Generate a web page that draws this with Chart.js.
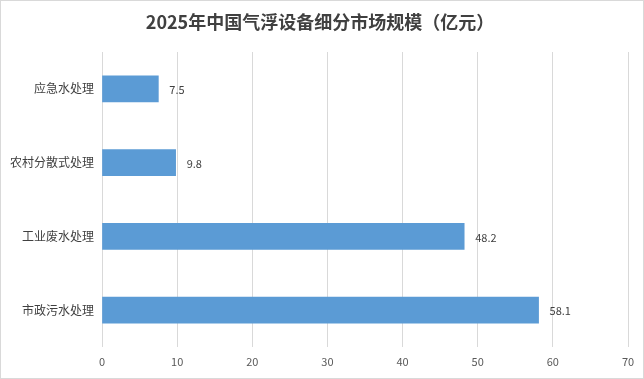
<!DOCTYPE html>
<html><head><meta charset="utf-8">
<script src="https://cdn.jsdelivr.net/npm/chart.js@4"></script>
<style>html,body{margin:0;padding:0;background:#fff}#w{width:644px;height:379px;position:relative}</style>
</head><body><div id="w"><canvas id="c" width="644" height="379"></canvas></div>
<script>
const titleText = '2025年中国气浮设备细分市场规模（亿元）';
const categories = ['应急水处理', '农村分散式处理', '工业废水处理', '市政污水处理'];
const values = [7.5, 9.8, 48.2, 58.1];
const xTicks = [0, 10, 20, 30, 40, 50, 60, 70];

const FONT = '"Noto Sans CJK SC", "Noto Sans", sans-serif';

const deco = {
  id: 'deco',
  afterDraw(chart) {
    const ctx = chart.ctx;
    ctx.save();
    ctx.strokeStyle = '#d9d9d9';
    ctx.lineWidth = 1;
    ctx.strokeRect(0.5, 0.5, chart.width - 1, chart.height - 1);
    ctx.fillStyle = '#404040';
    ctx.font = 'bold 18px ' + FONT;
    ctx.textAlign = 'center';
    ctx.textBaseline = 'middle';
    ctx.fillText(titleText, 320, 22);
    const meta = chart.getDatasetMeta(0);
    ctx.font = '11px ' + FONT;
    ctx.fillStyle = '#404040';
    ctx.textAlign = 'left';
    meta.data.forEach((bar, i) => {
      ctx.fillText(String(values[i]), bar.x + 11, bar.y + 1);
    });
    ctx.restore();
  }
};

new Chart(document.getElementById('c'), {
  type: 'bar',
  data: {
    labels: categories,
    datasets: [{ data: values, backgroundColor: '#5b9bd5', borderWidth: 0, barThickness: 26 }]
  },
  options: {
    indexAxis: 'y',
    responsive: false,
    animation: false,
    devicePixelRatio: 1,
    layout: { padding: { top: 52, right: 16, left: 0, bottom: 0 } },
    plugins: { legend: { display: false }, title: { display: false }, tooltip: { enabled: false } },
    scales: {
      x: {
        min: 0, max: 70,
        afterBuildTicks(s) { s.ticks = xTicks.map(v => ({ value: v })); },
        afterFit(s) { s.height = 32; },
        grid: { color: '#d9d9d9', drawTicks: false },
        border: { display: false },
        ticks: { padding: 8, color: '#595959', font: { size: 11, family: FONT } }
      },
      y: {
        afterFit(s) { s.width = 102; },
        grid: { display: false, drawTicks: false },
        border: { display: false },
        ticks: { padding: 8, color: '#404040', font: { size: 12, family: FONT } }
      }
    }
  },
  plugins: [deco]
});
</script></body></html>
